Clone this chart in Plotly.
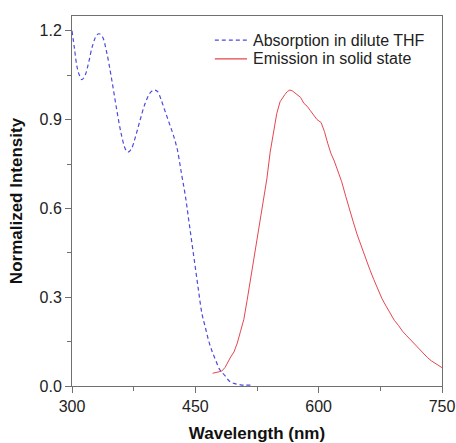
import plotly.graph_objects as go

# Absorption in dilute THF
abs_wl = [300, 303, 306, 309, 312, 316, 320, 325, 330, 333, 337, 342, 348, 354, 360, 365, 368,
          372, 377, 383, 389, 395, 400, 404, 408, 413, 418, 423, 428, 433, 438, 442, 446,
          450, 454, 458, 462, 466, 470, 475, 480, 486, 492, 498, 505, 511, 517]
abs_int = [1.20, 1.14, 1.08, 1.05, 1.035, 1.05, 1.09, 1.15, 1.185, 1.19, 1.18, 1.13, 1.04, 0.94,
           0.85, 0.80, 0.79, 0.80, 0.84, 0.90, 0.955, 0.99, 1.00, 0.995, 0.97, 0.93, 0.89, 0.85,
           0.80, 0.72, 0.64, 0.56, 0.48, 0.40, 0.32, 0.245, 0.20, 0.155, 0.12, 0.085, 0.054, 0.035,
           0.015, 0.008, 0.004, 0.003, 0.003]

# Emission in solid state
em_wl = [471, 475, 479, 482, 486, 490, 493, 497, 501, 505, 509, 513, 517, 521, 525, 529,
         533, 537, 541, 545, 549, 553, 556, 559, 562, 565, 568, 571, 574, 578, 582, 586,
         590, 594, 598, 603, 607, 611, 615, 619, 623, 628, 633, 638, 642, 647, 652, 657,
         662, 667, 672, 677, 682, 687, 692, 697, 702, 707, 712, 717, 722, 727, 732, 737,
         742, 746, 750]
em_int = [0.043, 0.045, 0.047, 0.050, 0.062, 0.085, 0.098, 0.115, 0.145, 0.185, 0.225, 0.29, 0.36,
          0.43, 0.495, 0.56, 0.63, 0.70, 0.79, 0.86, 0.92, 0.96, 0.975, 0.985, 0.995, 1.0, 0.997,
          0.99, 0.985, 0.975, 0.955, 0.945, 0.93, 0.915, 0.90, 0.89, 0.86, 0.82, 0.785, 0.76,
          0.73, 0.69, 0.64, 0.59, 0.555, 0.51, 0.47, 0.435, 0.395, 0.36, 0.325, 0.295, 0.27, 0.245,
          0.222, 0.205, 0.185, 0.17, 0.155, 0.14, 0.125, 0.112, 0.097, 0.085, 0.077, 0.07, 0.062]

names = ["Absorption in dilute THF", "Emission in solid state"]
colors = ["#4b4bdc", "#e5464f"]
dashes = ["4px,3px", "solid"]

FONT = "Liberation Sans, Arial"

fig = go.Figure()
fig.add_trace(go.Scatter(x=abs_wl, y=abs_int, mode="lines", name=names[0],
                         line=dict(color=colors[0], width=1.2, dash=dashes[0], shape="spline")))
fig.add_trace(go.Scatter(x=em_wl, y=em_int, mode="lines", name=names[1],
                         line=dict(color=colors[1], width=1)))

# legend drawn by hand so the rows sit as tight as in the original
for i, (name, col, dash) in enumerate(zip(names, colors, dashes)):
    yy = 0.935 - i * 0.051
    fig.add_shape(type="line", xref="paper", yref="paper", x0=0.386, x1=0.473, y0=yy, y1=yy,
                  line=dict(color=col, width=1.2, dash=dash))
    fig.add_annotation(text=name, xref="paper", yref="paper", x=0.484, y=yy,
                       xanchor="left", yanchor="middle", showarrow=False,
                       font=dict(family=FONT, size=16, color="#222"))

axis_common = dict(showline=True, linecolor="#707070", linewidth=1, mirror=True,
                   ticks="outside", tickcolor="#707070", ticklen=6, showgrid=False,
                   zeroline=False, automargin=False,
                   tickfont=dict(family=FONT, size=16, color="#222"))

fig.update_xaxes(range=[300, 750], tickvals=[300, 450, 600, 750],
                 minor=dict(ticks="outside", ticklen=4, tickcolor="#707070",
                            tickvals=[375, 525, 675]),
                 title=dict(text="<b>Wavelength (nm)</b>", standoff=19,
                            font=dict(family=FONT, size=17, color="#111")),
                 **axis_common)
fig.update_yaxes(range=[0, 1.25], tickvals=[0, 0.3, 0.6, 0.9, 1.2], tickformat=".1f",
                 minor=dict(ticks="outside", ticklen=4, tickcolor="#707070",
                            tickvals=[0.15, 0.45, 0.75, 1.05]),
                 title=dict(text="<b>Normalized Intensity</b>", standoff=12,
                            font=dict(family=FONT, size=17, color="#111")),
                 **axis_common)

fig.update_layout(
    width=456, height=443,
    margin=dict(l=72, r=14, t=16, b=57),
    plot_bgcolor="white", paper_bgcolor="white",
    showlegend=False,
)

# drop the page's default body margin so the figure fills the window
fig.write_html("out.html", config={"displayModeBar": False},
               post_script="document.body.style.margin = '0';")
